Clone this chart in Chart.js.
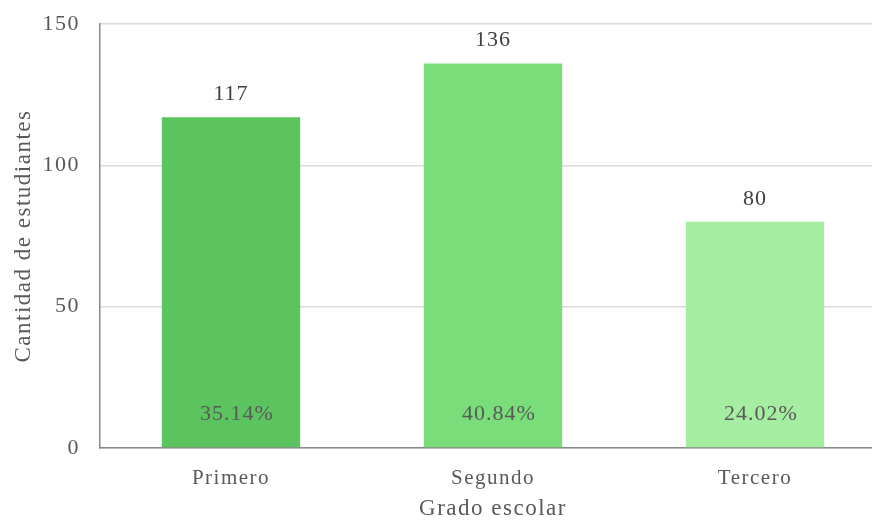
<!DOCTYPE html>
<html>
<head>
<meta charset="utf-8">
<script src="https://cdn.jsdelivr.net/npm/chart.js@4.4.1/dist/chart.umd.min.js"></script>
<style>
    html, body { margin: 0; padding: 0; background: #fff; overflow: hidden; }
    #wrap { width: 886px; height: 525px; }
</style>
</head>
<body>
<div id="wrap"><canvas id="gradeChart" width="886" height="525"></canvas></div>
<script>
// data
const grades = ['Primero', 'Segundo', 'Tercero'];
const students = [117, 136, 80];
const shares = ['35.14%', '40.84%', '24.02%'];
const barColors = ['rgb(92, 196, 94)', 'rgb(121, 221, 121)', 'rgb(165, 237, 160)'];
const yTicks = [0, 50, 100, 150];

const serif = '"Liberation Serif", "Times New Roman", serif';

// Excel-like slightly spaced text (canvas resize wipes the state, so set it each draw)
const spacedText = {
    id: 'spacedText',
    beforeDraw(chart) {
        chart.ctx.letterSpacing = '1.5px';
    }
};

// value above each bar + share near the bottom
const barLabels = {
    id: 'barLabels',
    afterDatasetsDraw(chart) {
        const ctx = chart.ctx;
        const meta = chart.getDatasetMeta(0);
        const zeroY = chart.scales.y.getPixelForValue(0);
        ctx.save();
        ctx.letterSpacing = '1px';
        ctx.textAlign = 'center';
        ctx.font = '22px ' + serif;
        meta.data.forEach((bar, i) => {
            ctx.fillStyle = '#404040';
            ctx.textBaseline = 'bottom';
            ctx.fillText(students[i], bar.x, bar.y - 12);
            ctx.fillStyle = '#595959';
            ctx.textBaseline = 'middle';
            ctx.fillText(shares[i], bar.x + 6, zeroY - 34);
        });
        ctx.restore();
    }
};

const gradeChartConfig = {
    type: 'bar',
    data: {
        labels: grades,
        datasets: [{
            label: 'Cantidad de estudiantes',
            data: students,
            backgroundColor: barColors,
            borderWidth: 0,
            barPercentage: 1,
            categoryPercentage: 0.528
        }]
    },
    options: {
        responsive: false,
        animation: false,
        layout: { padding: { top: 24, left: 4, right: 0, bottom: 0 } },
        plugins: {
            legend: { display: false },
            tooltip: { enabled: false }
        },
        scales: {
            x: {
                afterFit(scale) { scale.height = 77; },
                grid: { display: false, drawTicks: false },
                border: { display: true, color: '#898989', width: 1.5 },
                ticks: { color: '#595959', font: { family: serif, size: 21 }, padding: 18 },
                title: {
                    display: true,
                    text: 'Grado escolar',
                    color: '#595959',
                    font: { family: serif, size: 23 },
                    padding: { top: 4, bottom: 2 }
                }
            },
            y: {
                min: 0,
                max: 150,
                afterBuildTicks(scale) {
                    scale.ticks = yTicks.map(v => ({ value: v }));
                },
                afterFit(scale) { scale.width = 96; },
                // invisible tick marks keep the labels off the axis without padding the top
                grid: { color: '#d9d9d9', lineWidth: 1.5, drawTicks: true, tickLength: 13, tickColor: 'rgba(0,0,0,0)' },
                border: { display: true, color: '#898989', width: 1.5 },
                ticks: { color: '#595959', font: { family: serif, size: 22 }, padding: 7 },
                title: {
                    display: true,
                    text: 'Cantidad de estudiantes',
                    color: '#595959',
                    font: { family: serif, size: 23 },
                    padding: { top: 6, bottom: 2 }
                }
            }
        }
    },
    plugins: [spacedText, barLabels]
};

var gradeChart = new Chart(
    document.getElementById('gradeChart'),
    gradeChartConfig
);
</script>
</body>
</html>
